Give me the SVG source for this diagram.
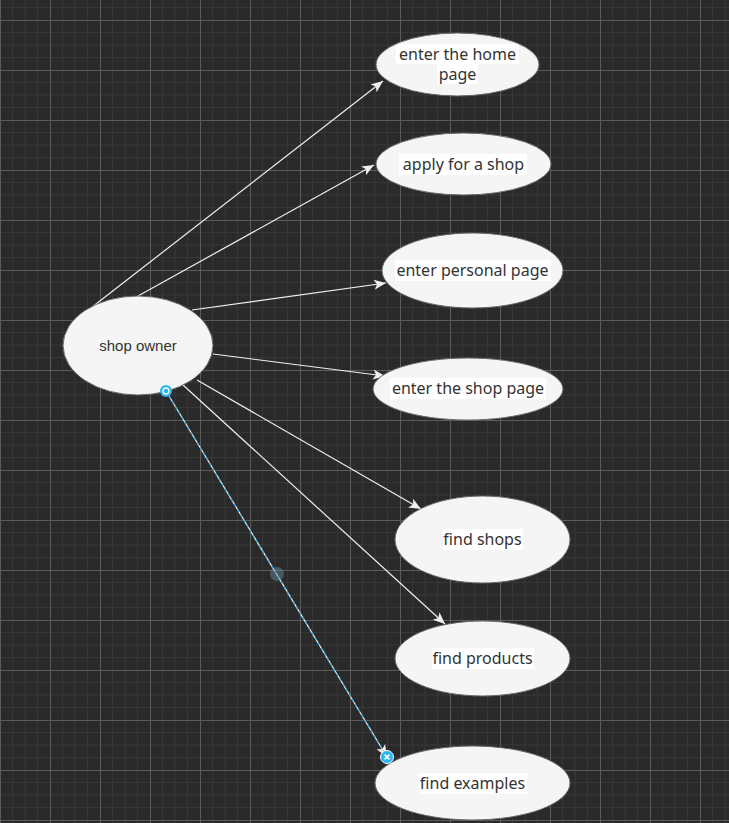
<svg xmlns="http://www.w3.org/2000/svg" width="729" height="823" viewBox="0 0 729 823">
<defs>
<pattern id="grid" patternUnits="userSpaceOnUse" x="0" y="20" width="50" height="50">
<rect width="50" height="50" fill="#2a2a2a"/>
<path d="M12.5 0V50M25 0V50M37.5 0V50M0 12.5H50M0 25H50M0 37.5H50" stroke="#373737" stroke-width="1" fill="none"/>
<path d="M0.5 0V50M0 0.5H50" stroke="#5c5c5c" stroke-width="1" fill="none"/>
</pattern>
<marker id="arr" markerUnits="userSpaceOnUse" markerWidth="12" markerHeight="12" viewBox="0 0 10 10" refX="10" refY="5" orient="auto">
<path d="M0,0.8 L10,5 L0,9.2 L2.5,5 z" fill="#f0f0f0"/>
</marker>
</defs>
<style>
.uc{fill:#f5f5f5;stroke:#666666;stroke-width:1}
.t{font-family:"Noto Sans","DejaVu Sans",sans-serif;font-size:16px;fill:#333333;text-anchor:middle}
.lb{fill:#ffffff}
.e{stroke:#f0f0f0;stroke-width:1.2;fill:none;marker-end:url(#arr)}
</style>
<rect width="729" height="823" fill="url(#grid)"/>
<g id="connectors">
<line class="e" x1="87" y1="311" x2="383" y2="81"/>
<line class="e" x1="138" y1="296" x2="374" y2="165"/>
<line class="e" x1="192" y1="310" x2="386" y2="283"/>
<line class="e" x1="213" y1="354" x2="385" y2="376"/>
<line class="e" x1="197" y1="380" x2="421" y2="509"/>
<line class="e" x1="183" y1="385" x2="445" y2="624"/>
<line class="e" x1="166" y1="391" x2="387" y2="757"/>
<line x1="166" y1="391" x2="387" y2="757" stroke="#29a8e0" stroke-width="1.3" stroke-dasharray="3 3"/>
</g>
<g id="home">
<ellipse class="uc" cx="457.5" cy="64.5" rx="81.5" ry="31.5"/>
<rect class="lb" x="396" y="44" width="123" height="20"/>
<rect class="lb" x="437" y="64" width="41" height="20"/>
<text class="t" x="457.5" y="60">enter the home</text>
<text class="t" x="457.5" y="80">page</text>
</g>
<g id="apply">
<ellipse class="uc" cx="463.5" cy="164" rx="87.5" ry="31"/>
<rect class="lb" x="399" y="154" width="128" height="21"/>
<text class="t" x="463.5" y="170">apply for a shop</text>
</g>
<g id="personal">
<ellipse class="uc" cx="472.5" cy="270.5" rx="90.5" ry="37.5"/>
<rect class="lb" x="395" y="260" width="156" height="21"/>
<text class="t" x="472.5" y="276">enter personal page</text>
</g>
<g id="shoppage">
<ellipse class="uc" cx="468" cy="389" rx="95" ry="31"/>
<rect class="lb" x="390" y="378" width="156" height="21"/>
<text class="t" x="468" y="394">enter the shop page</text>
</g>
<g id="findshops">
<ellipse class="uc" cx="482.5" cy="539.5" rx="87.5" ry="43.5"/>
<rect class="lb" x="443" y="529" width="80" height="21"/>
<text class="t" x="482.5" y="545">find shops</text>
</g>
<g id="findproducts">
<ellipse class="uc" cx="482.5" cy="658.5" rx="87.5" ry="37.5"/>
<rect class="lb" x="432" y="648" width="102" height="21"/>
<text class="t" x="482.5" y="664">find products</text>
</g>
<g id="findexamples">
<ellipse class="uc" cx="472.5" cy="783" rx="97.5" ry="37"/>
<rect class="lb" x="419" y="773" width="108" height="21"/>
<text class="t" x="472.5" y="789">find examples</text>
</g>
<g id="shopowner">
<ellipse class="uc" cx="138" cy="345.5" rx="75" ry="49.5"/>
<text x="138" y="351" font-family="'Liberation Sans',Arial,sans-serif" font-size="15" fill="#333333" text-anchor="middle">shop owner</text>
</g>
<g id="handles">
<circle cx="277" cy="574" r="7" fill="#6a8ea0" fill-opacity="0.45"/>
<circle cx="166" cy="391" r="6" fill="#29b6f2"/>
<circle cx="166" cy="391" r="3" fill="none" stroke="#ffffff" stroke-width="1.3"/>
<circle cx="387" cy="757" r="6.5" fill="#29b6f2" stroke="#ffffff" stroke-width="1"/>
<path d="M384.6 754.6L389.4 759.4M389.4 754.6L384.6 759.4" stroke="#ffffff" stroke-width="1.6"/>
</g>
</svg>
